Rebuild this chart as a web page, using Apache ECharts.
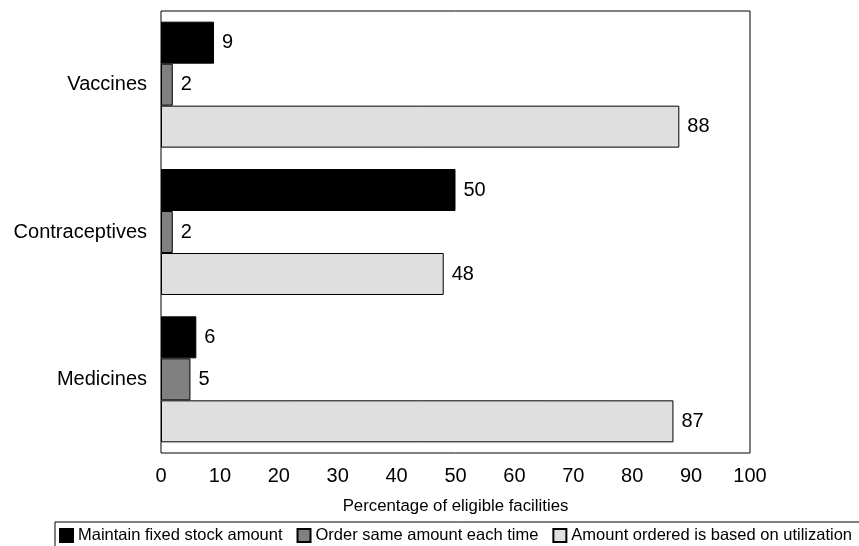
<!DOCTYPE html>
<html>
<head>
<meta charset="utf-8">
<script src="https://cdn.jsdelivr.net/npm/echarts@6/dist/echarts.min.js"></script>
<style>
html,body{margin:0;padding:0;background:#fff;}
#chart{width:859px;height:546px;}
</style>
</head>
<body>
<div id="chart"></div>
<script>
const categories = ['Vaccines', 'Contraceptives', 'Medicines'];
const seriesNames = ['Maintain fixed stock amount', 'Order same amount each time', 'Amount ordered is based on utilization'];
const fixedStock = [9, 50, 6];
const sameAmount = [2, 2, 5];
const utilization = [88, 48, 87];
const xTicks = [0, 10, 20, 30, 40, 50, 60, 70, 80, 90, 100];
const axisTitle = 'Percentage of eligible facilities';

const FONT = 'Liberation Sans, Arial, Helvetica, sans-serif';
const colors = ['#000000', '#808080', '#dfdfdf'];
const values = [fixedStock, sameAmount, utilization];

const chart = echarts.init(document.getElementById('chart'), null, {renderer: 'canvas'});
chart.setOption({
  animation: false,
  backgroundColor: '#ffffff',
  textStyle: {fontFamily: FONT, color: '#000'},
  grid: {
    left: 161, right: 109, top: 11, bottom: 93,
    show: true, borderColor: '#000', borderWidth: 1, containLabel: false
  },
  legend: {
    left: 55, top: 522, width: 1000,
    orient: 'horizontal',
    data: seriesNames,
    icon: 'rect',
    itemWidth: 13, itemHeight: 13, itemGap: 14,
    padding: [5, 12, 8, 4],
    borderColor: '#000', borderWidth: 1,
    textStyle: {fontFamily: FONT, fontSize: 16.5, color: '#000'}
  },
  xAxis: {
    type: 'value', min: xTicks[0], max: xTicks[xTicks.length - 1], interval: 10,
    axisLine: {show: false}, axisTick: {show: false}, splitLine: {show: false},
    axisLabel: {fontFamily: FONT, fontSize: 20, color: '#000', margin: 13},
    name: axisTitle, nameLocation: 'middle', nameGap: 45,
    nameTextStyle: {fontFamily: FONT, fontSize: 16.8, color: '#000'}
  },
  yAxis: {
    type: 'category', data: categories, inverse: true,
    axisLine: {show: false}, axisTick: {show: false}, splitLine: {show: false},
    axisLabel: {fontFamily: FONT, fontSize: 20, color: '#000', margin: 14}
  },
  series: seriesNames.map((name, i) => ({
    name: name,
    type: 'bar',
    data: values[i],
    barGap: '0%',
    barCategoryGap: '14.5%',
    itemStyle: {color: colors[i], borderColor: '#000', borderWidth: 1},
    label: {show: true, position: 'right', distance: 8, fontFamily: FONT, fontSize: 20, color: '#000'}
  }))
});
</script>
</body>
</html>
